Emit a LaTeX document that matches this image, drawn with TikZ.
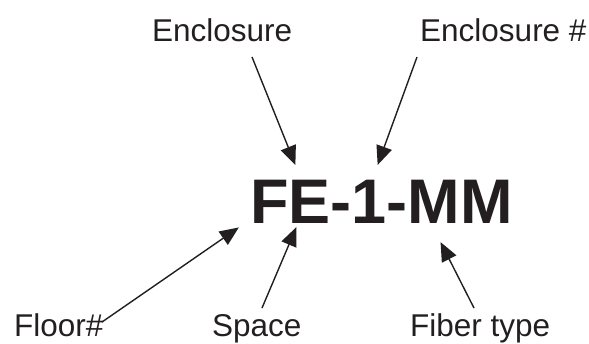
\documentclass[tikz,border=0pt]{standalone}
\usepackage{fontspec}
\setmainfont{Liberation Sans}
\usetikzlibrary{arrows.meta}
\definecolor{ink}{HTML}{231F20}

\tikzset{
  lbl/.style={anchor=base west, inner sep=0pt, text=ink, font=\fontsize{31.5}{38}\selectfont},
  code/.style={anchor=base west, inner sep=0pt, text=ink, font=\fontsize{63}{72}\selectfont\bfseries},
  pointer/.style={draw=ink, fill=ink, line width=1.4pt, -{Triangle[length=19pt,width=16pt]}, shorten >=-1pt}
}

\begin{document}
\begin{tikzpicture}[x=1pt,y=-1pt]
\useasboundingbox (0,0) rectangle (589,343);
% labels
\node[lbl] (encl) at (152,41) {Enclosure};
\node[lbl] (enclno) at (420,41) {Enclosure \#};
\node[lbl] (floor) at (14,336) {Floor\#};
\node[lbl] (space) at (212,336) {Space};
\node[lbl] (fiber) at (410,336) {Fiber type};
\node[code] (tag) at (250,223) {FE-1-MM};
% arrow ends
\coordinate (encl-a) at (252,57);
\coordinate (encl-b) at (295,164);
\coordinate (enclno-a) at (417,57);
\coordinate (enclno-b) at (378,164);
\coordinate (floor-a) at (102,322);
\coordinate (floor-b) at (238,228);
\coordinate (space-a) at (262,308);
\coordinate (space-b) at (296,228);
\coordinate (fiber-a) at (474,308);
\coordinate (fiber-b) at (441,243);
% arrows
\draw[pointer] (encl-a) -- (encl-b);
\draw[pointer] (enclno-a) -- (enclno-b);
\draw[pointer] (floor-a) -- (floor-b);
\draw[pointer] (space-a) -- (space-b);
\draw[pointer] (fiber-a) -- (fiber-b);
\end{tikzpicture}
\end{document}
